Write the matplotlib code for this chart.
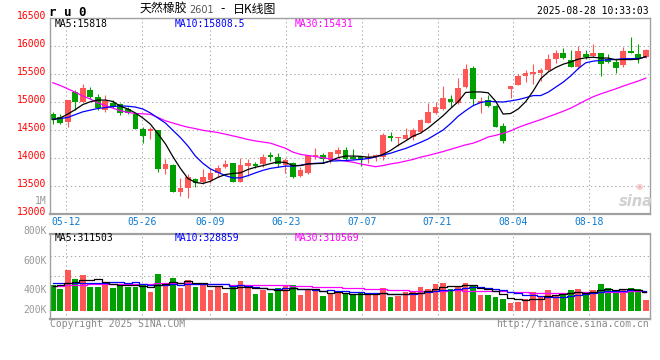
import numpy as np
import matplotlib
matplotlib.use("Agg")
import matplotlib.pyplot as plt
from matplotlib.transforms import ScaledTranslation

# ---- data: ru2601 daily, 2025-05-08 .. 2025-08-28 ----
opens = [14790, 14730, 14655, 15180, 15010, 15215, 15090, 14860, 14995, 14970,
         14875, 14790, 14520, 14480, 14505, 13810, 13885, 13400, 13475, 13630,
         13585, 13610, 13730, 13850, 13910, 13585, 13870, 13900, 13900, 14060,
         14020, 13880, 13915, 13690, 13730, 14015, 14050, 13970, 14075, 14150,
         14030, 14035, 13995, 14015, 14030, 14390, 14355, 14340, 14385, 14475,
         14630, 14815, 14885, 15055, 14980, 15265, 15605, 14995, 15040, 14935,
         14575, 15245, 15315, 15470, 15500, 15530, 15575, 15775, 15885, 15755,
         15635, 15860, 15825, 15875, 15780, 15720, 15660, 15915, 15860, 15800]
highs = [14835, 14790, 15040, 15220, 15325, 15265, 15150, 15130, 15040, 14985,
         14910, 14800, 14565, 14565, 14505, 13980, 13900, 13640, 13720, 13640,
         13810, 13810, 13885, 13970, 13910, 14000, 13990, 13935, 14075, 14105,
         14090, 14000, 13925, 13850, 14060, 14190, 14090, 14110, 14210, 14200,
         14170, 14040, 14090, 14075, 14455, 14470, 14385, 14540, 14540, 14710,
         14995, 15005, 15290, 15125, 15430, 15680, 15650, 15100, 15125, 14945,
         14635, 15290, 15505, 15575, 15680, 15605, 15860, 15935, 15965, 15935,
         16005, 15935, 16040, 15875, 15860, 15780, 15995, 16160, 16040, 15945]
lows = [14620, 14605, 14565, 14860, 15000, 15050, 14860, 14820, 14895, 14775,
        14790, 14525, 14280, 14345, 13760, 13720, 13395, 13320, 13295, 13480,
        13535, 13560, 13670, 13835, 13570, 13570, 13690, 13820, 13840, 13950,
        13850, 13745, 13640, 13670, 13720, 13990, 13920, 13920, 14030, 13965,
        13980, 13855, 13910, 13960, 13970, 14305, 14220, 14330, 14325, 14460,
        14625, 14790, 14860, 14910, 14970, 15250, 14950, 14815, 14910, 14555,
        14280, 15085, 15300, 15370, 15320, 15385, 15565, 15710, 15770, 15625,
        15590, 15765, 15815, 15475, 15695, 15515, 15635, 15875, 15710, 15785]
closes = [14680, 14625, 15035, 15000, 15250, 15100, 14905, 15030, 14920, 14815,
          14805, 14525, 14400, 14515, 13810, 13900, 13400, 13475, 13670, 13550,
          13670, 13730, 13830, 13900, 13585, 13875, 13920, 13860, 14015, 14025,
          13900, 13970, 13670, 13790, 14060, 14060, 13995, 14110, 14150, 13995,
          13995, 13970, 14030, 14060, 14415, 14365, 14385, 14415, 14505, 14685,
          14825, 14910, 15070, 15010, 15255, 15590, 15065, 15030, 14935, 14565,
          14315, 15290, 15470, 15530, 15540, 15575, 15775, 15885, 15795, 15635,
          15915, 15815, 15875, 15680, 15720, 15620, 15915, 15885, 15765, 15935]

ma5 = [14690, 14720, 14790, 14870, 14960, 15010, 15040, 15040, 15015, 14930,
       14880, 14810, 14720, 14610, 14440, 14260, 14030, 13820, 13640, 13570,
       13550, 13590, 13660, 13710, 13730, 13740, 13800, 13840, 13870, 13905,
       13935, 13925, 13870, 13870, 13900, 13905, 13910, 13955, 14010, 14040,
       14040, 14035, 14020, 14025, 14070, 14140, 14230, 14310, 14395, 14450,
       14540, 14650, 14760, 14890, 15010, 15175, 15185, 15185, 15170, 15020,
       14790, 14800, 14880, 15010, 15200, 15420, 15540, 15620, 15680, 15720,
       15770, 15795, 15805, 15790, 15790, 15760, 15765, 15762, 15770, 15818]
ma10 = [14700, 14710, 14730, 14780, 14830, 14860, 14890, 14905, 14925, 14935,
        14930, 14915, 14880, 14810, 14720, 14630, 14500, 14370, 14220, 14040,
        13910, 13810, 13750, 13690, 13650, 13650, 13690, 13740, 13785, 13820,
        13840, 13860, 13860, 13875, 13900, 13910, 13915, 13950, 13955, 13960,
        13970, 13980, 13995, 14025, 14060, 14090, 14135, 14175, 14230, 14285,
        14345, 14425, 14505, 14620, 14750, 14850, 14940, 14995, 15020, 15010,
        15005, 15025, 15048, 15082, 15120, 15120, 15180, 15270, 15360, 15470,
        15600, 15705, 15735, 15748, 15760, 15765, 15778, 15780, 15782, 15808.5]
ma30 = [15350, 15300, 15240, 15180, 15110, 15060, 14990, 14940, 14895, 14850,
        14820, 14800, 14795, 14785, 14730, 14670, 14630, 14590, 14555, 14530,
        14500, 14480, 14460, 14430, 14400, 14370, 14335, 14310, 14290, 14270,
        14225, 14180, 14110, 14070, 14050, 14030, 14010, 13990, 13970, 13950,
        13930, 13900, 13875, 13850, 13870, 13900, 13920, 13950, 13980, 14020,
        14050, 14085, 14120, 14160, 14200, 14240, 14270, 14320, 14380, 14410,
        14445, 14490, 14550, 14600, 14645, 14690, 14740, 14790, 14840, 14895,
        14965, 15035, 15100, 15150, 15195, 15240, 15290, 15335, 15380, 15431]

volumes = [421000, 361000, 669000, 518000, 583000, 394000, 394000, 473000, 377000, 442000,
           389000, 389000, 421000, 313000, 603000, 433000, 538000, 377000, 502000, 394000,
           421000, 343000, 389000, 295000, 389000, 491000, 389000, 275000, 348000, 292000,
           377000, 400000, 421000, 259000, 361000, 340000, 248000, 287000, 287000, 271000,
           275000, 287000, 259000, 259000, 373000, 227000, 248000, 303000, 313000, 394000,
           361000, 437000, 454000, 361000, 394000, 454000, 405000, 259000, 259000, 227000,
           194000, 134000, 146000, 190000, 308000, 232000, 340000, 259000, 259000, 340000,
           361000, 259000, 340000, 437000, 377000, 287000, 340000, 377000, 361000, 178000]
vol_ma5 = [405000, 421000, 454000, 475000, 510000, 505000, 512000, 472000, 444000, 416000,
           415000, 414000, 404000, 391000, 423000, 432000, 462000, 453000, 491000, 449000,
           446000, 407000, 410000, 368000, 367000, 381000, 391000, 368000, 378000, 359000,
           336000, 338000, 368000, 350000, 364000, 356000, 326000, 299000, 305000, 287000,
           274000, 281000, 276000, 270000, 291000, 281000, 273000, 282000, 293000, 297000,
           324000, 362000, 392000, 401000, 401000, 420000, 414000, 375000, 354000, 321000,
           269000, 215000, 192000, 178000, 194000, 202000, 243000, 266000, 280000, 286000,
           312000, 296000, 312000, 347000, 355000, 340000, 356000, 364000, 348000, 311503]
vol_ma10 = [449000, 450000, 452000, 455000, 455000, 455000, 458000, 460000, 462000, 463000,
            460000, 463000, 438000, 418000, 420000, 424000, 438000, 429000, 441000, 436000,
            439000, 435000, 432000, 430000, 408000, 414000, 399000, 389000, 373000, 363000,
            359000, 365000, 368000, 364000, 362000, 346000, 332000, 334000, 328000, 326000,
            315000, 304000, 288000, 288000, 289000, 278000, 277000, 279000, 282000, 294000,
            303000, 318000, 337000, 347000, 349000, 372000, 388000, 384000, 378000, 361000,
            345000, 315000, 284000, 266000, 258000, 236000, 229000, 229000, 229000, 240000,
            257000, 270000, 289000, 314000, 321000, 326000, 326000, 338000, 348000, 328859]
vol_ma30 = [405000, 410000, 418000, 421000, 425000, 430000, 436000, 440000, 442000, 443000,
            443000, 443000, 443000, 444000, 446000, 450000, 450000, 448000, 446000, 444000,
            442000, 440000, 436000, 432000, 428000, 425000, 423000, 422000, 421000, 421000,
            419000, 421000, 413000, 404000, 397000, 395000, 390000, 384000, 381000, 375000,
            371000, 368000, 363000, 361000, 353000, 346000, 336000, 334000, 328000, 328000,
            326000, 329000, 331000, 333000, 333000, 332000, 332000, 332000, 329000, 327000,
            321000, 312000, 303000, 300000, 299000, 295000, 298000, 297000, 296000, 298000,
            302000, 301000, 303000, 309000, 309000, 311000, 314000, 317000, 318000, 310569]

date_labels = ['05-12', '05-26', '06-09', '06-23', '07-07', '07-21', '08-04', '08-18']
date_index = [2, 12, 21, 31, 41, 51, 61, 71]
price_ticks = [13000, 13500, 14000, 14500, 15000, 15500, 16000, 16500]
vol_labels = ['800K', '600K', '400K', '200K']

# ---- style ----
RED = '#ff5656'
GREEN = '#00a000'
GRID = '#aaaaaa'
FRAME = '#a0a0a0'
MONO = 'DejaVu Sans Mono'
CJK = ['Noto Sans CJK SC', 'DejaVu Sans']
W, H = 660, 360


def fx(x):
    return x / W


def fy(y):
    return 1 - y / H


fig = plt.figure(figsize=(W / 100, H / 100), dpi=100)
fig.patch.set_facecolor('white')

ax = fig.add_axes([fx(50), fy(214.3), 600 / W, 196 / H])
axv = fig.add_axes([fx(50), fy(318.5), 600 / W, 84.5 / H])

o, h, l, c = map(np.array, (opens, highs, lows, closes))
x = np.arange(len(o))
cols = np.where(c >= o, RED, GREEN)

# the date grid of the site runs on a slightly wider step than the candles
grid_x = (np.array(date_index) - 2) * 7.588 / 7.505 + 1.72
xlim = (-0.373, 79.57)

# ---- price panel ----
ax.vlines(x, l, h, colors=cols, lw=0.8, zorder=2)
ax.bar(x, np.maximum(np.abs(c - o), 18), bottom=np.minimum(o, c), width=0.76,
       color=cols, linewidth=0, zorder=2)
ax.plot(x, ma30, color='#ff00ff', lw=0.9, zorder=3)
ax.plot(x, ma10, color='#0000ff', lw=0.9, zorder=3)
ax.plot(x, ma5, color='black', lw=0.9, zorder=3)

ax.set_xlim(*xlim)
ax.set_ylim(price_ticks[0], price_ticks[-1])
ax.set_yticks(price_ticks)
ax.set_xticks(grid_x)
ax.set_xticklabels(date_labels)
ax.tick_params(axis='y', length=0, pad=3, labelcolor='#ff0000', labelsize=7)
ax.tick_params(axis='x', length=0, pad=2.2, labelcolor='#0a78d0', labelsize=7)
for lab in ax.get_yticklabels() + ax.get_xticklabels():
    lab.set_fontfamily(MONO)
for lab in ax.get_yticklabels():
    lab.set_transform(lab.get_transform() + ScaledTranslation(0, 0.035, fig.dpi_scale_trans))
ax.grid(True, color=GRID, lw=0.75, linestyle=(0, (1.3, 2.6)))
ax.set_axisbelow(True)

# ---- volume panel ----
VOL_PX = 16200  # volume per pixel
axv.bar(x, volumes, width=0.76, color=cols, linewidth=0, zorder=2)
axv.plot(x, vol_ma30, color='#ff00ff', lw=0.9, drawstyle='steps-mid', zorder=3)
axv.plot(x, vol_ma10, color='#0000ff', lw=0.9, drawstyle='steps-mid', zorder=3)
axv.plot(x, vol_ma5, color='black', lw=0.9, drawstyle='steps-mid', zorder=3)
axv.set_xlim(*xlim)
axv.set_ylim(-7.5 * VOL_PX, 77 * VOL_PX)
axv.set_xticks(grid_x)
axv.set_yticks([(311 - 255.7) * VOL_PX, (311 - 275.7) * VOL_PX])
axv.tick_params(length=0, labelbottom=False, labelleft=False)
axv.grid(True, color=GRID, lw=0.75, linestyle=(0, (1.3, 2.6)))
axv.set_axisbelow(True)

for a in (ax, axv):
    for s in a.spines.values():
        s.set_color(FRAME)
        s.set_linewidth(1.0)
ax.spines['bottom'].set_linewidth(1.6)
axv.spines['top'].set_linewidth(1.6)
axv.spines['bottom'].set_linewidth(1.6)

for lab, yp in zip(vol_labels, [230.7, 261, 290, 310]):
    fig.text(fx(46.5), fy(yp), lab, ha='right', va='center', color='#999999',
             fontsize=7, family=MONO)
fig.text(fx(46.5), fy(200.7), '1M', ha='right', va='center', color='#999999',
         fontsize=7, family=MONO)

# ---- MA captions ----
for xp, yp, txt, col in [
        (55, 24, f'MA5:{ma5[-1]:g}', 'black'),
        (175, 24, f'MA10:{ma10[-1]:g}', '#0000ff'),
        (295, 24, f'MA30:{ma30[-1]:g}', '#ff00ff'),
        (55, 238.3, f'MA5:{vol_ma5[-1]}', 'black'),
        (175, 238.3, f'MA10:{vol_ma10[-1]}', '#0000ff'),
        (295, 238.3, f'MA30:{vol_ma30[-1]}', '#ff00ff')]:
    fig.text(fx(xp), fy(yp), txt, ha='left', va='center', color=col,
             fontsize=7, family=MONO)

# ---- header ----
fig.text(fx(49), fy(12), 'r u 0', ha='left', va='center', fontsize=9,
         family=MONO, weight='bold')
fig.text(fx(140), fy(9), '天然橡胶', ha='left', va='center', fontsize=8.6,
         family=CJK)
fig.text(fx(189.5), fy(10), '2601', ha='left', va='center', fontsize=7,
         color='#555555', family='DejaVu Sans')
fig.text(fx(220), fy(9), '-', ha='left', va='center', fontsize=8.6,
         family='DejaVu Sans')
fig.text(fx(233), fy(9), '日K线图', ha='left', va='center', fontsize=8.6,
         family=CJK)
fig.text(fx(649), fy(11), '2025-08-28 10:33:03', ha='right', va='center',
         fontsize=7, family=MONO)

# ---- footer ----
fig.text(fx(50), fy(323.7), 'Copyright 2025 SINA.COM', ha='left', va='center',
         fontsize=7, family=MONO, color='#888888')
fig.text(fx(649), fy(323.7), 'http://finance.sina.com.cn', ha='right', va='center',
         fontsize=7, family=MONO, color='#888888')

# watermark
fig.text(fx(639), fy(186.5), '◉', ha='center', va='center', fontsize=6,
         color='#f2b4b4', family='DejaVu Sans')
fig.text(fx(636), fy(202), 'sina', ha='center', va='center', fontsize=10.5,
         style='italic', weight='bold', color='#d0d0d0', family='DejaVu Sans')

fig.savefig('out.png', dpi=100)
